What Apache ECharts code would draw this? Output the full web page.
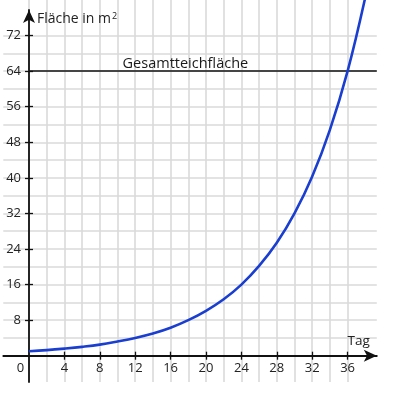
<!DOCTYPE html>
<html>
<head>
<meta charset="utf-8">
<script src="https://cdn.jsdelivr.net/npm/echarts@6/dist/echarts.min.js"></script>
<style>
html,body{margin:0;padding:0;background:#fff;}
#c{width:394px;height:395px;}
</style>
</head>
<body>
<div id="c"></div>
<script>
// ---- data ----
const days = [0, 2, 4, 6, 8, 10, 12, 14, 16, 18, 20, 22, 24, 26, 28, 30, 32, 34, 36, 38];
const area = [1, 1.26, 1.6, 2, 2.5, 3.2, 4, 5, 6.3, 8, 10.1, 12.7, 16, 20.2, 25.4, 32, 40.3, 50.8, 64, 80.6];
const xTickLabels = [4, 8, 12, 16, 20, 24, 28, 32, 36];
const yTickLabels = [8, 16, 24, 32, 40, 48, 56, 64, 72];
const xGridValues = [-2, 0, 2, 4, 6, 8, 10, 12, 14, 16, 18, 20, 22, 24, 26, 28, 30, 32, 34, 36, 38];
const yGridValues = [-4, 0, 4, 8, 12, 16, 20, 24, 28, 32, 36, 40, 44, 48, 52, 56, 60, 64, 68, 72, 76];
const pondArea = 64;
const pondLabel = 'Gesamtteichfläche';
const xName = 'Tag';
const yName = 'Fläche in m';
const yNameSup = '2';

// ---- layout ----
const X_MIN = -2.9, X_MAX = 39.3;
const Y_MIN = -5.9, Y_MAX = 80, Y_AXIS_MAX = 77.75;
const FONT = 'Open Sans';
const INK = '#111';
const TXT = '#222';
const GRIDC = '#dadada';

const xLabelVals = [0].concat(xTickLabels);

const chart = echarts.init(document.getElementById('c'), null, {renderer: 'canvas'});

function hidden(extra) {
  return Object.assign({
    type: 'value',
    axisLine: {show: false, onZero: false},
    axisTick: {show: false},
    axisLabel: {show: false},
    splitLine: {show: false}
  }, extra);
}

const tickStyle = {color: INK, width: 1.3};

const option = {
  animation: false,
  backgroundColor: '#fff',
  textStyle: {fontFamily: FONT},
  grid: [
    // 0: plotting area with grid lines
    {left: 3.3, top: 0, width: 373.5, height: 382, outerBoundsMode: 'none', containLabel: false},
    // 1: x axis (bottom edge sits on y = 0)
    {left: 3.3, top: 0, width: 373.5, height: 355.7, outerBoundsMode: 'none', containLabel: false},
    // 2: y axis (left edge sits on x = 0)
    {left: 29, top: 10, width: 347.8, height: 372, outerBoundsMode: 'none', containLabel: false}
  ],
  xAxis: [
    // 0: grid lines
    hidden({
      gridIndex: 0, min: X_MIN, max: X_MAX, position: 'bottom',
      minInterval: 2, maxInterval: 2, splitNumber: 21,
      axisTick: {show: false, customValues: xGridValues},
      splitLine: {show: true, showMinLine: false, showMaxLine: false, lineStyle: {color: GRIDC, width: 1.6}}
    }),
    // 1: visible x axis, ticks below
    {
      type: 'value', gridIndex: 1, min: X_MIN, max: X_MAX, position: 'bottom',
      minInterval: 4, maxInterval: 4, splitNumber: 10,
      splitLine: {show: false},
      axisLine: {show: true, onZero: false,
        symbol: ['none', 'arrow'], symbolSize: [9, 13],
        lineStyle: {color: INK, width: 1.8}},
      axisTick: {show: true, inside: false, length: 4, customValues: xTickLabels, lineStyle: tickStyle},
      axisLabel: {show: true, customValues: xLabelVals, margin: 6,
        color: TXT, fontSize: 13, fontFamily: FONT,
        formatter: function (v) {
          if (v === 0) return '{z|0}';
          if (v > 0 && Math.abs(v % 4) < 1e-9) return String(v);
          return '';
        },
        rich: {z: {fontSize: 13, fontFamily: FONT, color: TXT, padding: [0, 17, 0, 0]}}
      },
      name: xName, nameLocation: 'end', nameGap: -7,
      nameTextStyle: {fontSize: 13.5, fontFamily: FONT, color: TXT, align: 'right',
        verticalAlign: 'bottom', padding: [0, 0, 8, 0]}
    },
    // 2: x ticks above the axis
    {
      type: 'value', gridIndex: 1, min: X_MIN, max: X_MAX, position: 'bottom',
      minInterval: 4, maxInterval: 4, splitNumber: 10,
      splitLine: {show: false},
      axisLine: {show: false, onZero: false},
      axisTick: {show: true, inside: true, length: 4, customValues: xTickLabels, lineStyle: tickStyle},
      axisLabel: {show: false}
    },
    // 3: helper for grid 2
    hidden({gridIndex: 2, min: 0, max: X_MAX, position: 'bottom'})
  ],
  yAxis: [
    // 0: grid lines
    hidden({
      gridIndex: 0, min: Y_MIN, max: Y_MAX, position: 'left',
      minInterval: 4, maxInterval: 4, splitNumber: 21,
      axisTick: {show: false, customValues: yGridValues},
      splitLine: {show: true, showMinLine: false, showMaxLine: false, lineStyle: {color: GRIDC, width: 1.6}}
    }),
    // 1: helper for grid 1
    hidden({gridIndex: 1, min: 0, max: Y_MAX, position: 'left'}),
    // 2: visible y axis, ticks left
    {
      type: 'value', gridIndex: 2, min: Y_MIN, max: Y_AXIS_MAX, position: 'left',
      minInterval: 8, maxInterval: 8, splitNumber: 10,
      splitLine: {show: false},
      axisLine: {show: true, onZero: false,
        symbol: ['none', 'arrow'], symbolSize: [9, 13],
        lineStyle: {color: INK, width: 1.8}},
      axisTick: {show: true, inside: false, length: 4, customValues: yTickLabels, lineStyle: tickStyle},
      axisLabel: {show: true, customValues: yTickLabels, margin: 8,
        color: TXT, fontSize: 13, fontFamily: FONT,
        formatter: function (v) {
          if (v > 0 && v <= 72 && Math.abs(v % 8) < 1e-9) return String(v);
          return '';
        }
      },
      name: '{a|' + yName + '}{s|' + yNameSup + '}',
      nameLocation: 'end', nameGap: -9,
      nameTextStyle: {align: 'left', verticalAlign: 'middle', padding: [0, 0, 0, 8],
        rich: {
          a: {fontSize: 14, fontFamily: FONT, color: TXT},
          s: {fontSize: 9, fontFamily: FONT, color: TXT, verticalAlign: 'top', padding: [0, 0, 0, 1]}
        }
      }
    },
    // 3: y ticks right of axis
    {
      type: 'value', gridIndex: 2, min: Y_MIN, max: Y_AXIS_MAX, position: 'left',
      minInterval: 8, maxInterval: 8, splitNumber: 10,
      splitLine: {show: false},
      axisLine: {show: false, onZero: false},
      axisTick: {show: true, inside: true, length: 4, customValues: yTickLabels, lineStyle: tickStyle},
      axisLabel: {show: false}
    }
  ],
  series: [
    {
      name: pondLabel, type: 'line', xAxisIndex: 0, yAxisIndex: 0,
      data: [], silent: true,
      markLine: {
        silent: true, symbol: 'none', animation: false,
        lineStyle: {color: INK, width: 1.5, type: 'solid'},
        label: {show: true, position: 'insideMiddleTop', formatter: pondLabel,
          fontSize: 14.5, fontFamily: FONT, color: '#1a1a1a', distance: 0,
          padding: [0, 35, 0, 0]},
        data: [[{coord: [0, pondArea]}, {coord: [X_MAX, pondArea]}]]
      }
    },
    {
      type: 'line', xAxisIndex: 0, yAxisIndex: 0,
      data: days.map(function (d, i) { return [d, area[i]]; }),
      smooth: 0.4, symbol: 'none', clip: true, silent: true,
      lineStyle: {color: '#1a3fd0', width: 2.6},
      z: 5
    }
  ]
};
chart.setOption(option);
</script>
</body>
</html>
